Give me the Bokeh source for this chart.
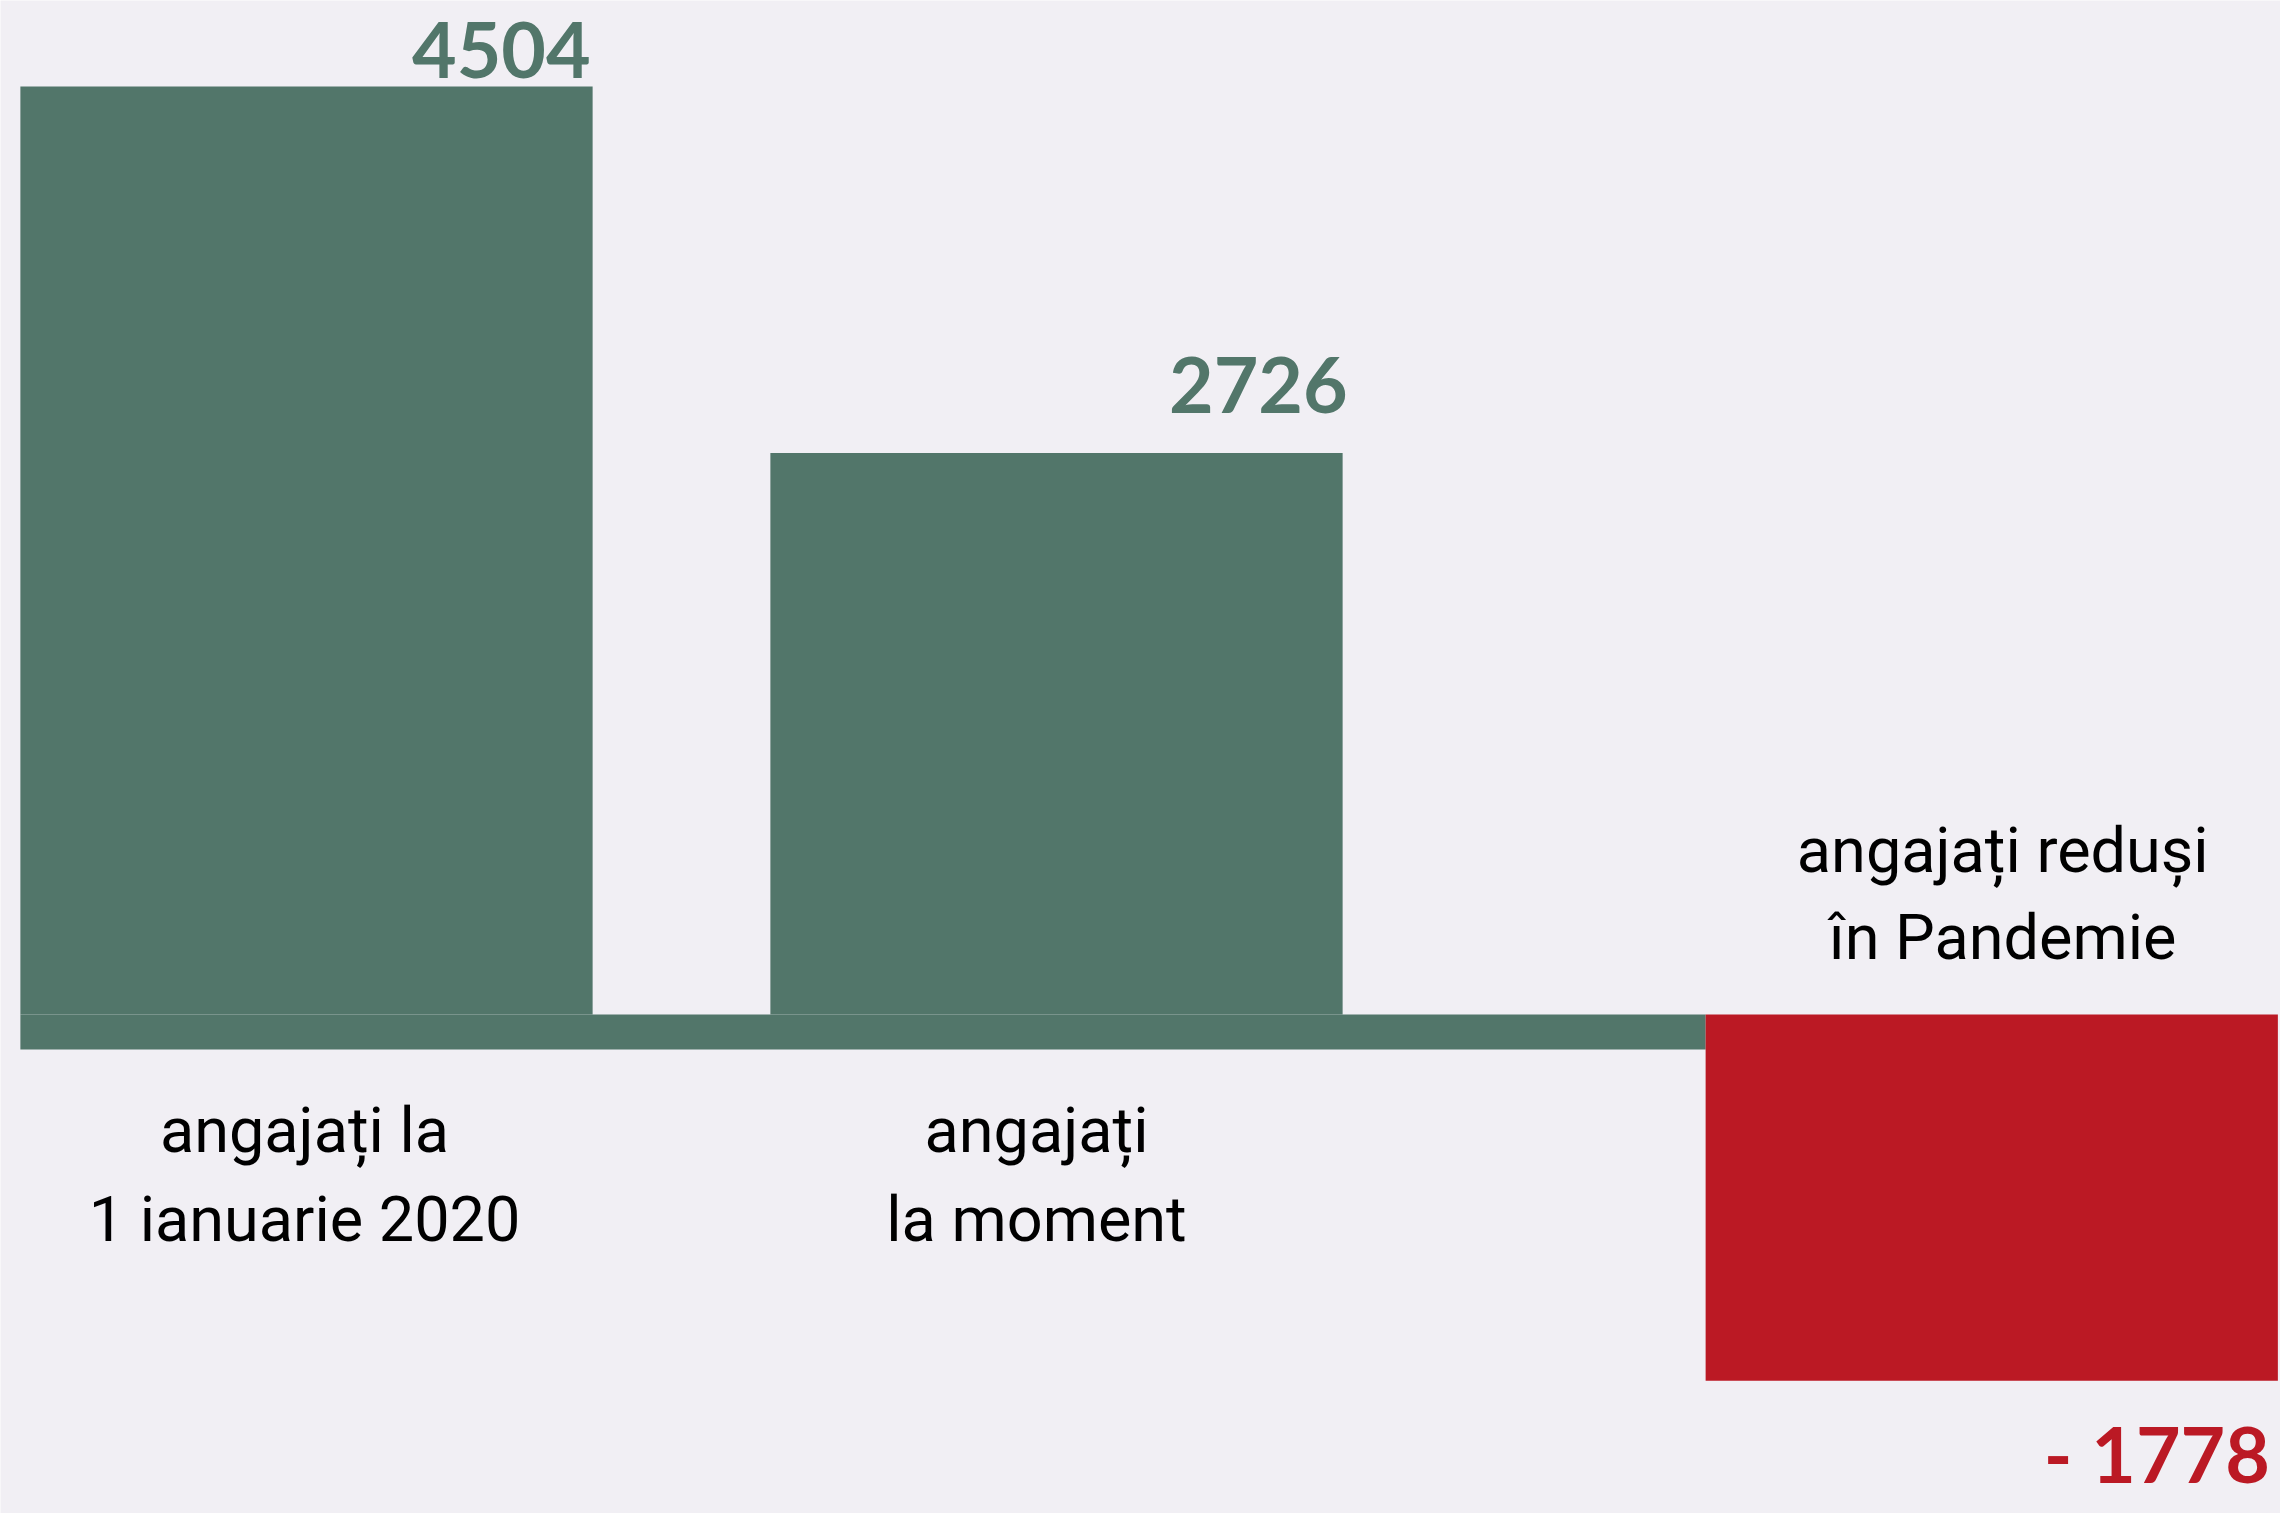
from bokeh.plotting import figure
from bokeh.models import ColumnDataSource
from bokeh.core.properties import value
from bokeh.embed import file_html
from bokeh.resources import INLINE

# ---- data ----
categories = ["angajați la\n1 ianuarie 2020", "angajați\nla moment", "angajați reduși\nîn Pandemie"]
values = [4504, 2726, -1778]
value_labels = ["4504", "2726", "- 1778"]

# ---- layout / style ----
BG = "#F1EFF4"
GREEN = "#52766A"
RED = "#BB1924"
bar_pos = [0.0, 1.0, 2.247]
bar_w = 0.763
strip_depth = 170          # thickness of the baseline band, in value units
colors = [GREEN if v >= 0 else RED for v in values]

p = figure(width=2280, height=1513, x_range=(-0.408, 2.632), y_range=(-2422, 4922),
           output_backend="svg", toolbar_location=None, min_border=0,
           x_axis_location=None, y_axis_location=None,
           background_fill_color=BG, border_fill_color=BG)
p.grid.visible = False
p.outline_line_color = None

# baseline band linking the bars
p.quad(left=[bar_pos[0] - bar_w / 2], right=[bar_pos[2] - bar_w / 2],
       top=[0], bottom=[-strip_depth], fill_color=GREEN, line_color=None)

src = ColumnDataSource(dict(x=bar_pos, top=values, color=colors,
                            right=[b + bar_w / 2 for b in bar_pos],
                            vlab=value_labels,
                            vxoff=[-2, 5, -8],
                            voff=[-37, -68, 72]))
p.vbar(x="x", top="top", bottom=0, width=bar_w, fill_color="color", line_color=None, source=src)

# value labels
p.text(x="right", y="top", text="vlab", source=src, x_offset="vxoff", y_offset="voff",
       text_align="right", text_baseline="alphabetic",
       text_font=value("Lato"), text_font_style="bold", text_font_size="77px",
       text_color="color")

# category labels
x_nudge = [-2, -20, 11]
lx, ly, lt, loff, lxo = [], [], [], [], []
for i, (cat, v) in enumerate(zip(categories, values)):
    lines = cat.split("\n")
    offs = [116, 205] if v >= 0 else [-164, -77]
    for line, o in zip(lines, offs):
        lx.append(bar_pos[i]); ly.append(0); lt.append(line); loff.append(o); lxo.append(x_nudge[i])
lsrc = ColumnDataSource(dict(x=lx, y=ly, t=lt, off=loff, xo=lxo))
p.text(x="x", y="y", text="t", source=lsrc, x_offset="xo", y_offset="off",
       text_align="center", text_baseline="alphabetic",
       text_font=value("Roboto"), text_font_size="63px", text_color="#000000")

open("out.html", "w").write(file_html(p, INLINE))
